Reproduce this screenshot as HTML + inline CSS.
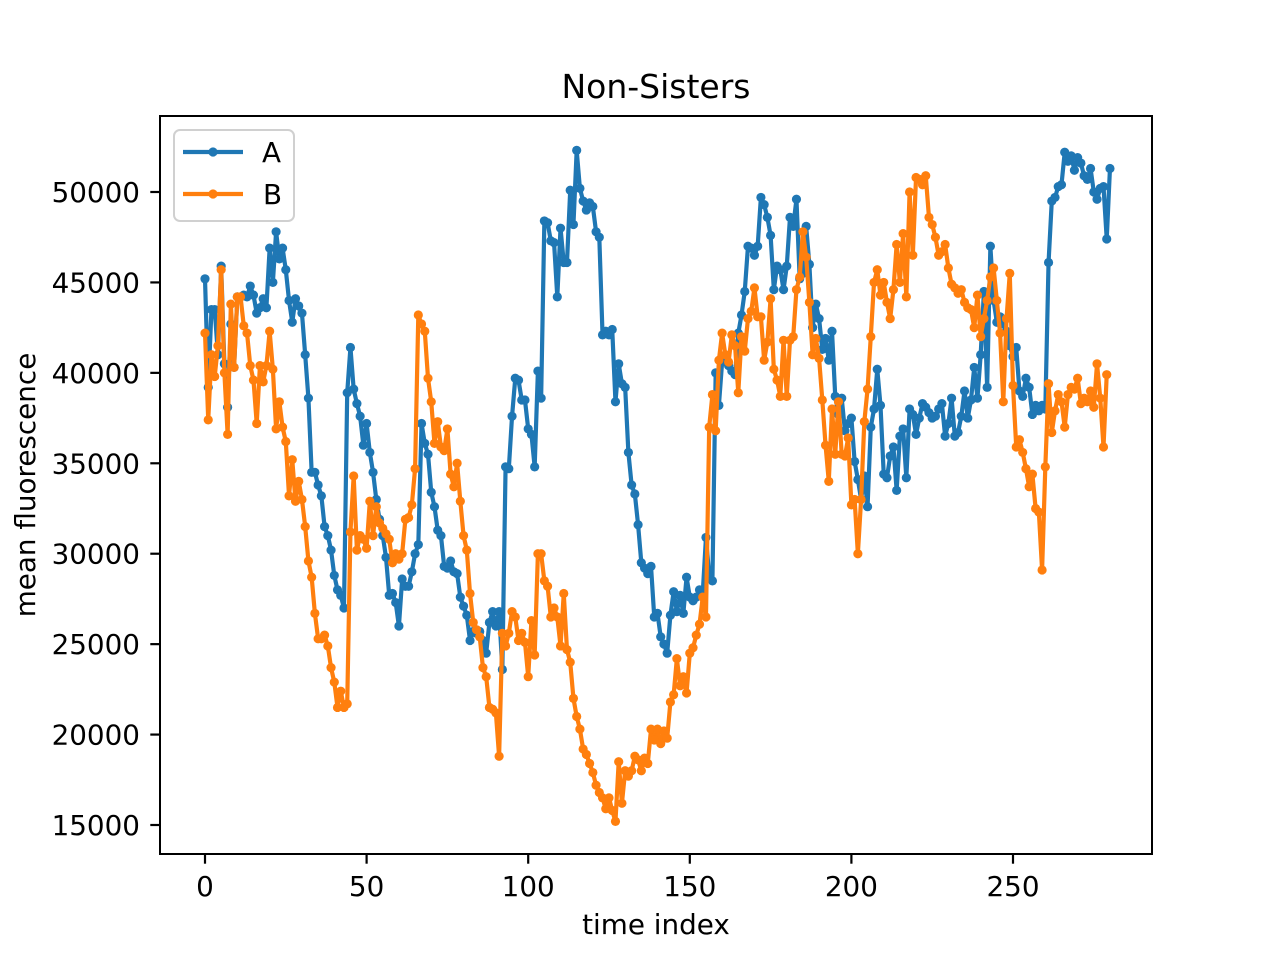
<!DOCTYPE html>
<html><head><meta charset="utf-8"><style>
html,body{margin:0;padding:0;background:#fff;}
svg{display:block;font-family:"DejaVu Sans","Liberation Sans",sans-serif;}
</style></head><body>
<svg id="chart" width="1280" height="960" viewBox="0 0 1280 960" xmlns="http://www.w3.org/2000/svg">
<rect x="0" y="0" width="1280" height="960" fill="#fff"/>
<text x="656" y="98" font-size="33" text-anchor="middle">Non-Sisters</text>
<g id="plot"></g>
<rect x="160" y="116" width="992" height="738" fill="none" stroke="#000" stroke-width="2"/>
<g id="xticks"></g>
<g id="yticks"></g>
<text x="656" y="934" font-size="27.8" text-anchor="middle">time index</text>
<text x="0" y="0" font-size="27.8" text-anchor="middle" transform="translate(35,485) rotate(-90)">mean fluorescence</text>
<g>
<rect x="174" y="130" width="120" height="91" rx="6" fill="#fff" fill-opacity="0.8" stroke="#d0d0d0" stroke-width="2"/>
<g>
<line x1="183" y1="152" x2="243" y2="152" stroke="#1f77b4" stroke-width="4.2"/>
<circle cx="213" cy="152" r="4.6" fill="#1f77b4"/>
<text x="262" y="162" font-size="27.8">A</text>
</g>
<g>
<line x1="183" y1="194" x2="243" y2="194" stroke="#ff7f0e" stroke-width="4.2"/>
<circle cx="213" cy="194" r="4.6" fill="#ff7f0e"/>
<text x="263" y="204" font-size="27.8">B</text>
</g>
</g>
</svg>
<script>
const xTicks = [0, 50, 100, 150, 200, 250];
const yTicks = [15000, 20000, 25000, 30000, 35000, 40000, 45000, 50000];
const seriesA = [45200,39200,43500,43500,41000,45900,40500,38100,42700,40300,44200,44200,44300,44200,44800,44300,43300,43600,44100,43600,46900,45000,47800,46300,46900,45700,44000,42800,44100,43700,43300,41000,38600,
34500,34500,33800,33200,31500,31000,30200,28800,28000,27700,27000,
38900,41400,39100,38300,37600,36000,37200,35600,34500,33000,31900,31000,29800,27700,27800,27300,26000,
28600,28200,28200,29000,30000,30500,
37200,36100,35500,33400,32600,31300,31000,29300,29200,29600,29000,28900,27600,27100,26600,25200,25700,25600,25700,25200,24500,26200,26800,26000,26800,
23600,
34800,34700,37600,39700,39600,38500,38500,36900,36600,34800,40100,38600,
48400,48300,47300,47200,44200,48000,46100,46100,50100,48200,52300,50200,49500,49000,49400,49200,47800,47500,
42100,42300,42100,42400,38400,40500,39400,39200,35600,33800,33300,31600,29500,29200,28900,29300,26500,26700,25400,25000,24500,
26600,27900,26800,27700,26700,28700,27600,27400,27600,28000,27800,30900,28800,28500,
40000,38200,40600,40900,40400,40100,39900,42200,43200,44500,47000,46900,46500,47000,49700,
49300,48600,47600,44600,45900,45700,44600,45900,48600,48100,49600,45200,45500,48100,46000,42500,43800,43000,41300,41900,40700,42300,38700,37700,38600,36800,37200,37500,35100,34100,33000,34300,32600,
37000,38000,40200,38200,34400,34200,35400,35900,33500,36500,36900,34200,38000,37700,36600,37500,38300,38100,37800,37500,37600,38000,38300,36500,37200,38600,36500,36700,37600,39000,37500,38500,40300,38600,41000,44500,39200,47000,44000,42800,43100,42700,42300,41500,40900,41400,39000,38700,39700,39200,37700,38200,37900,38200,38000,
46100,49500,49700,50300,50400,52200,51700,52000,51200,51900,51600,50900,50700,51300,50000,49600,50200,50300,47400,51300];
const seriesB = [42200,37400,41000,39800,41500,45700,40000,36600,43800,40300,44200,44200,42600,42200,40400,39600,37200,40400,39500,40400,42300,40200,36900,38400,37000,36200,33200,35200,32900,34000,33000,31500,
29600,28700,26700,25300,25300,25500,24900,23700,22900,21500,22400,21500,21700,
31200,34300,30200,31000,30800,30300,32900,31000,32600,31700,31400,31100,30800,29500,30000,29700,30000,31900,32000,32700,34700,
43200,42700,42300,39700,38400,36100,37300,35900,35700,36900,34400,33700,35000,32900,31000,30200,27800,26200,25800,25400,23700,23200,21500,21400,21200,18800,
25600,24900,25600,26800,26500,25200,25600,25100,23200,26300,24400,30000,30000,
28500,28200,26500,27000,26500,24900,27800,24700,24000,22000,21000,20300,19200,18900,18400,17900,17200,16800,16500,15900,16500,15800,15200,
18500,16200,18000,17700,18000,18800,18600,18000,18700,18400,20300,19700,20300,19500,20200,19800,21800,22200,24200,22700,23200,22300,24500,24800,25500,26100,27600,26500,
37000,38800,36800,40700,42200,41000,40600,42100,41500,38900,42000,41200,43000,43400,44700,43100,43100,40700,41700,44100,40200,39600,38700,41800,38700,41800,42000,44600,45300,47800,46400,43900,41000,41900,40800,38500,36000,34000,38000,35500,38400,35500,35400,36400,32700,33000,30000,33000,37300,39100,
42000,45000,45700,44300,45000,43900,43000,44600,47100,45000,47700,44200,50000,46500,50800,50700,50400,50900,48600,48200,47500,46500,46700,47100,45800,44900,44700,44400,44600,43900,43600,43500,42500,44300,42000,43000,44000,45300,45800,44000,42200,38400,43000,45500,
39300,35900,36300,35600,34700,33700,34400,32500,32300,29100,
34800,39400,36700,37900,38800,38400,37000,38800,39200,39100,39700,38300,38600,38400,39000,38100,40500,38600,35900,39900];

const X0 = 205, XS = 808 / 250;
const Y50 = 192, YS = 633 / 35000;
function xs(i) { return X0 + i * XS; }
function ys(v) { return Y50 + (50000 - v) * YS; }
const NS = 'http://www.w3.org/2000/svg';
function mk(tag, attrs, parent) {
  const el = document.createElementNS(NS, tag);
  for (const k in attrs) el.setAttribute(k, attrs[k]);
  parent.appendChild(el);
  return el;
}
const xg = document.getElementById('xticks');
xTicks.forEach(function (t) {
  const x = xs(t);
  const tk = mk('line', {x1: x, y1: 854, x2: x, y2: 863.7, stroke: '#000', 'stroke-width': 2.2}, xg);
  
  
  const tx = mk('text', {x: x, y: 896, 'font-size': 27.8, 'text-anchor': 'middle'}, xg);
  
  
  tx.textContent = String(t);
});
const yg = document.getElementById('yticks');
yTicks.forEach(function (t) {
  const y = ys(t);
  const tk = mk('line', {x1: 150.3, y1: y, x2: 160, y2: y, stroke: '#000', 'stroke-width': 2.2}, yg);
  
  
  const tx = mk('text', {x: 140, y: y + 10, 'font-size': 27.8, 'text-anchor': 'end'}, yg);
  
  
  tx.textContent = String(t);
});
const plot = document.getElementById('plot');
function drawSeries(vals, color, name) {
  const g = mk('g', {}, plot);
  
  
  const pts = vals.map(function (v, i) { return xs(i).toFixed(2) + ',' + ys(v).toFixed(2); }).join(' ');
  const pl = mk('polyline', {points: pts, fill: 'none', stroke: color, 'stroke-width': 4.2, 'stroke-linejoin': 'round', 'stroke-linecap': 'square'}, g);
  
  
  vals.forEach(function (v, i) {
    const c = mk('circle', {cx: xs(i), cy: ys(v), r: 4.6, fill: color}, g);
    
    
  });
}
drawSeries(seriesA, '#1f77b4', 'a');
drawSeries(seriesB, '#ff7f0e', 'b');
</script>
</body></html>
